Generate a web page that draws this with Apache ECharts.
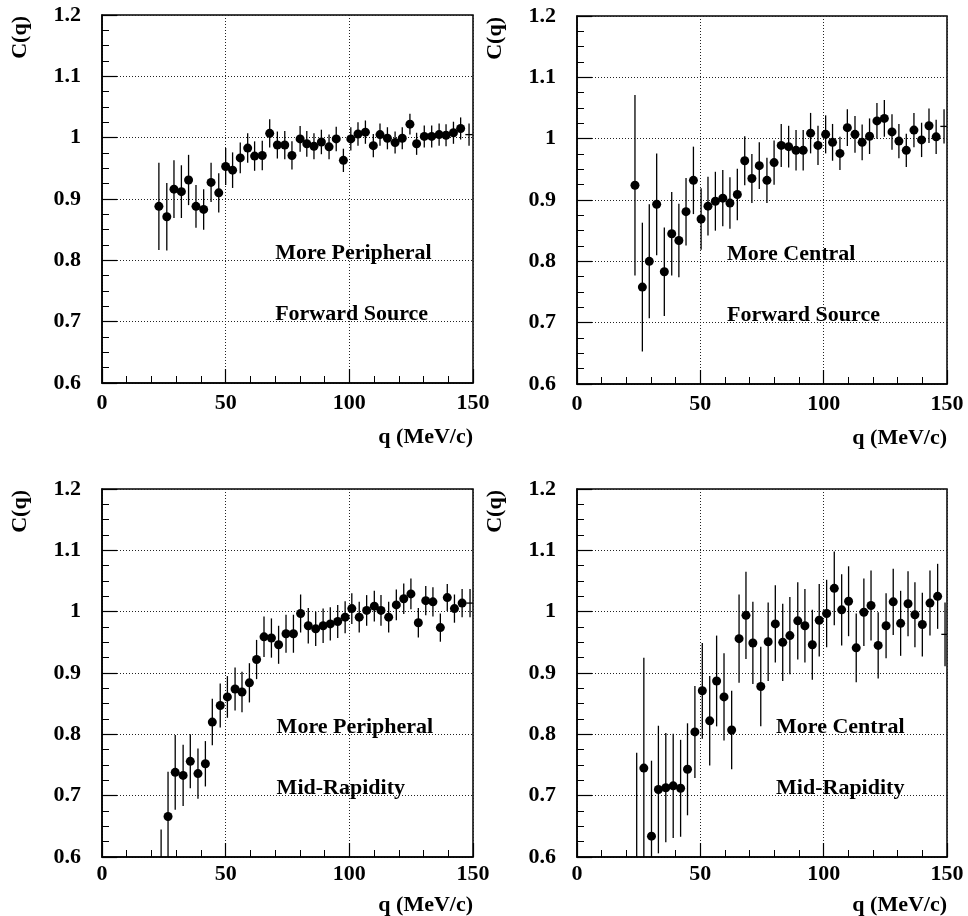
<!DOCTYPE html>
<html>
<head>
<meta charset="utf-8">
<title>C(q) correlation functions</title>
<script src="https://cdn.jsdelivr.net/npm/echarts@6/dist/echarts.min.js"></script>
<style>
  html, body { margin: 0; padding: 0; background: #fff; }
  #chart { width: 968px; height: 916px; }
</style>
</head>
<body>
<div id="chart"></div>
<script>
// ---- Data: C(q) vs q (MeV/c), with statistical errors ----

// Forward source, more peripheral
const qFwdPeri = [23.0, 26.2, 29.1, 32.1, 35.0, 38.0, 41.1, 44.1, 47.2, 50.0, 52.8, 55.9, 58.9, 61.7, 64.8, 67.8, 70.9, 73.9, 76.8, 80.1, 82.8, 85.7, 88.7, 91.8, 94.7, 97.6, 100.6, 103.5, 106.5, 109.7, 112.4, 115.4, 118.5, 121.4, 124.5, 127.2, 130.3, 133.3, 136.3, 139.1, 142.1, 145.0, 148.4];
const cFwdPeri = [0.888, 0.871, 0.916, 0.912, 0.931, 0.888, 0.883, 0.927, 0.910, 0.953, 0.947, 0.967, 0.983, 0.970, 0.971, 1.007, 0.988, 0.988, 0.971, 0.998, 0.990, 0.986, 0.993, 0.985, 0.998, 0.963, 0.998, 1.006, 1.009, 0.987, 1.005, 0.999, 0.992, 0.999, 1.022, 0.990, 1.002, 1.002, 1.005, 1.004, 1.008, 1.015, 1.005];
const eFwdPeri = [0.071, 0.055, 0.047, 0.043, 0.041, 0.035, 0.033, 0.032, 0.032, 0.030, 0.029, 0.025, 0.024, 0.024, 0.024, 0.023, 0.022, 0.023, 0.023, 0.021, 0.021, 0.021, 0.020, 0.020, 0.020, 0.019, 0.019, 0.019, 0.019, 0.019, 0.018, 0.018, 0.018, 0.018, 0.017, 0.018, 0.018, 0.018, 0.018, 0.018, 0.018, 0.018, 0.018];

// Forward source, more central
const qFwdCent = [23.5, 26.5, 29.3, 32.3, 35.4, 38.4, 41.3, 44.2, 47.2, 50.3, 53.1, 56.1, 59.1, 62.0, 65.0, 68.0, 70.9, 73.9, 77.0, 79.9, 82.8, 85.8, 88.8, 91.7, 94.7, 97.7, 100.8, 103.6, 106.6, 109.6, 112.7, 115.6, 118.6, 121.6, 124.6, 127.7, 130.5, 133.5, 136.6, 139.7, 142.7, 145.6, 148.8];
const cFwdCent = [0.924, 0.758, 0.800, 0.893, 0.783, 0.845, 0.834, 0.881, 0.932, 0.869, 0.890, 0.898, 0.903, 0.895, 0.909, 0.964, 0.935, 0.956, 0.932, 0.961, 0.989, 0.987, 0.981, 0.981, 1.009, 0.989, 1.007, 0.994, 0.976, 1.018, 1.007, 0.994, 1.004, 1.029, 1.033, 1.011, 0.996, 0.981, 1.014, 0.998, 1.021, 1.003, 1.020];
const eFwdCent = [0.147, 0.105, 0.093, 0.083, 0.072, 0.068, 0.060, 0.055, 0.055, 0.050, 0.048, 0.048, 0.046, 0.042, 0.042, 0.040, 0.040, 0.038, 0.037, 0.036, 0.035, 0.034, 0.033, 0.033, 0.033, 0.032, 0.031, 0.030, 0.027, 0.030, 0.030, 0.029, 0.029, 0.029, 0.030, 0.029, 0.028, 0.027, 0.028, 0.028, 0.028, 0.028, 0.028];

// Mid-rapidity, more peripheral
const qMidPeri = [23.9, 26.7, 29.6, 32.8, 35.7, 38.8, 41.8, 44.6, 47.8, 50.7, 53.8, 56.6, 59.6, 62.5, 65.5, 68.5, 71.4, 74.4, 77.4, 80.3, 83.4, 86.4, 89.4, 92.3, 95.3, 98.3, 101.0, 104.0, 107.0, 110.1, 112.8, 115.9, 119.0, 122.0, 124.9, 127.9, 130.9, 133.8, 136.8, 139.6, 142.5, 145.6, 148.8];
const cMidPeri = [0.560, 0.666, 0.738, 0.733, 0.756, 0.736, 0.752, 0.820, 0.847, 0.861, 0.874, 0.869, 0.884, 0.922, 0.959, 0.957, 0.946, 0.964, 0.964, 0.997, 0.977, 0.972, 0.977, 0.980, 0.984, 0.991, 1.005, 0.991, 1.002, 1.009, 1.002, 0.991, 1.011, 1.021, 1.029, 0.982, 1.018, 1.016, 0.974, 1.023, 1.005, 1.014, 1.014];
const eMidPeri = [0.085, 0.073, 0.061, 0.050, 0.044, 0.041, 0.037, 0.038, 0.036, 0.034, 0.035, 0.033, 0.032, 0.032, 0.033, 0.032, 0.031, 0.031, 0.031, 0.031, 0.029, 0.028, 0.028, 0.027, 0.027, 0.026, 0.025, 0.025, 0.025, 0.025, 0.025, 0.025, 0.025, 0.025, 0.025, 0.024, 0.024, 0.024, 0.023, 0.022, 0.023, 0.023, 0.023];

// Mid-rapidity, more central
const qMidCent = [24.2, 27.1, 30.2, 33.0, 36.0, 39.0, 42.0, 44.8, 47.8, 50.8, 53.8, 56.6, 59.6, 62.7, 65.7, 68.5, 71.3, 74.5, 77.5, 80.4, 83.4, 86.3, 89.5, 92.4, 95.4, 98.2, 101.2, 104.3, 107.3, 110.1, 113.2, 116.3, 119.2, 122.1, 125.3, 128.2, 131.2, 134.2, 137.0, 140.0, 143.1, 146.2, 149.2];
const cMidCent = [0.550, 0.745, 0.634, 0.710, 0.713, 0.716, 0.712, 0.743, 0.804, 0.871, 0.822, 0.887, 0.861, 0.807, 0.956, 0.994, 0.949, 0.878, 0.951, 0.980, 0.950, 0.961, 0.985, 0.977, 0.946, 0.986, 0.997, 1.038, 1.003, 1.017, 0.941, 0.999, 1.010, 0.945, 0.977, 1.016, 0.981, 1.013, 0.995, 0.979, 1.014, 1.025, 0.963];
const eMidCent = [0.220, 0.180, 0.123, 0.104, 0.089, 0.085, 0.079, 0.075, 0.075, 0.078, 0.073, 0.074, 0.071, 0.064, 0.072, 0.071, 0.067, 0.065, 0.064, 0.063, 0.063, 0.063, 0.063, 0.060, 0.057, 0.059, 0.055, 0.060, 0.058, 0.057, 0.056, 0.055, 0.057, 0.054, 0.053, 0.054, 0.053, 0.053, 0.053, 0.052, 0.053, 0.053, 0.052];

// Axis tick values
const xTicks = [0, 50, 100, 150];
const yTicks = [0.6, 0.7, 0.8, 0.9, 1.0, 1.1, 1.2];

// Panel captions
const captionsFwdPeri = ['More Peripheral', 'Forward Source'];
const captionsFwdCent = ['More Central', 'Forward Source'];
const captionsMidPeri = ['More Peripheral', 'Mid-Rapidity'];
const captionsMidCent = ['More Central', 'Mid-Rapidity'];

const xTitle = 'q (MeV/c)';
const yTitle = 'C(q)';

// ---- Layout ----
const FONT_FAMILY = '"Liberation Serif", "Times New Roman", serif';
const FONT_SIZE = 22;
const FONT = 'bold ' + FONT_SIZE + 'px ' + FONT_FAMILY;

const panels = [
  { q: qFwdPeri, c: cFwdPeri, e: eFwdPeri, captions: captionsFwdPeri,
    grid: { left: 102, top: 15, width: 371, height: 368 }, captionX: 70.0, xLabelMargin: 9, xTitleY: 437 },
  { q: qFwdCent, c: cFwdCent, e: eFwdCent, captions: captionsFwdCent,
    grid: { left: 577, top: 16, width: 370, height: 368 }, captionX: 60.8, xLabelMargin: 9, xTitleY: 438 },
  { q: qMidPeri, c: cMidPeri, e: eMidPeri, captions: captionsMidPeri,
    grid: { left: 102, top: 489, width: 371, height: 368 }, captionX: 70.6, xLabelMargin: 6, xTitleY: 905 },
  { q: qMidCent, c: cMidCent, e: eMidCent, captions: captionsMidCent,
    grid: { left: 577, top: 489, width: 370, height: 368 }, captionX: 80.7, xLabelMargin: 6, xTitleY: 905 }
];
// caption baselines sit on these C(q) grid lines
const captionBaselines = [0.8, 0.7];
// half width of the last (edge) bin, drawn as a cross instead of a marker
const EDGE_HALF_WIDTH = 1.5;

const labelStyle = {
  color: '#000', fontFamily: FONT_FAMILY, fontWeight: 'bold', fontSize: FONT_SIZE
};
const gridLineStyle = { color: '#222', width: 1, type: [1, 2] };

function errorBarItem(params, api) {
  const x = api.value(0), y = api.value(1), e = api.value(2), edge = api.value(3);
  const top = api.coord([x, y + e]);
  const bot = api.coord([x, y - e]);
  const children = [{
    type: 'line',
    shape: { x1: top[0], y1: top[1], x2: bot[0], y2: bot[1] },
    style: { stroke: '#000', lineWidth: 1.3 }
  }];
  if (edge) {
    const l = api.coord([x - EDGE_HALF_WIDTH, y]);
    const r = api.coord([x + EDGE_HALF_WIDTH, y]);
    children.push({
      type: 'line',
      shape: { x1: l[0], y1: l[1], x2: r[0], y2: r[1] },
      style: { stroke: '#000', lineWidth: 1.3 }
    });
  }
  return { type: 'group', children: children };
}

const grids = [], xAxes = [], yAxes = [], series = [];
panels.forEach(function (p, i) {
  grids.push(Object.assign({ show: true, borderColor: '#000', borderWidth: 1.5, backgroundColor: 'transparent' }, p.grid));
  xAxes.push({
    gridIndex: i, type: 'value',
    min: xTicks[0], max: xTicks[xTicks.length - 1], interval: xTicks[1] - xTicks[0],
    axisLine: { onZero: false, lineStyle: { color: '#000', width: 1.5 } },
    axisTick: { inside: true, length: 14, lineStyle: { color: '#000', width: 1.2 } },
    minorTick: { show: true, splitNumber: 5, length: 7, lineStyle: { color: '#000', width: 1 } },
    splitLine: { show: true, lineStyle: gridLineStyle },
    axisLabel: Object.assign({ margin: p.xLabelMargin, showMinLabel: true, showMaxLabel: true }, labelStyle)
  });
  yAxes.push({
    gridIndex: i, type: 'value',
    min: yTicks[0], max: yTicks[yTicks.length - 1], interval: 0.1,
    axisLine: { onZero: false, lineStyle: { color: '#000', width: 1.5 } },
    axisTick: { inside: true, length: 15, lineStyle: { color: '#000', width: 1.2 } },
    minorTick: { show: true, splitNumber: 4, length: 7, lineStyle: { color: '#000', width: 1 } },
    splitLine: { show: true, lineStyle: gridLineStyle },
    axisLabel: Object.assign({
      margin: 21, showMinLabel: true, showMaxLabel: true,
      formatter: function (v) { return String(+v.toFixed(1)); }
    }, labelStyle)
  });

  const last = p.q.length - 1;
  const barData = p.q.map(function (x, k) { return [x, p.c[k], p.e[k], k === last ? 1 : 0]; });
  const markerData = p.q.slice(0, last).map(function (x, k) { return [x, p.c[k]]; });

  series.push({
    type: 'custom', xAxisIndex: i, yAxisIndex: i, clip: true, silent: true,
    renderItem: errorBarItem, data: barData, z: 2
  });
  series.push({
    type: 'scatter', xAxisIndex: i, yAxisIndex: i, clip: true, silent: true,
    symbol: 'circle', symbolSize: 9, itemStyle: { color: '#000', opacity: 1 },
    data: markerData, z: 3
  });
});

const chart = echarts.init(document.getElementById('chart'), null, { renderer: 'canvas' });
chart.setOption({
  animation: false,
  backgroundColor: '#fff',
  grid: grids, xAxis: xAxes, yAxis: yAxes, series: series
});

// Text: axis titles and panel captions
const texts = [];
panels.forEach(function (p, i) {
  const g = p.grid;
  // y title, rotated, reading upwards, top aligned with the frame
  texts.push({
    type: 'text', x: g.left - 82, y: g.top + 1, rotation: Math.PI / 2, silent: true,
    style: { text: yTitle, font: FONT, fill: '#000', align: 'right', verticalAlign: 'middle' }
  });
  // x title, right aligned with the frame
  texts.push({
    type: 'text', x: g.left + g.width, y: p.xTitleY, silent: true,
    style: { text: xTitle, font: FONT, fill: '#000', align: 'right', verticalAlign: 'middle' }
  });
  // captions
  p.captions.forEach(function (txt, k) {
    const pt = chart.convertToPixel({ gridIndex: i }, [p.captionX, captionBaselines[k]]);
    texts.push({
      type: 'text', x: pt[0], y: pt[1] - 7, silent: true,
      style: { text: txt, font: FONT, fill: '#000', align: 'left', verticalAlign: 'middle' }
    });
  });
});
chart.setOption({ graphic: texts });
</script>
</body>
</html>
